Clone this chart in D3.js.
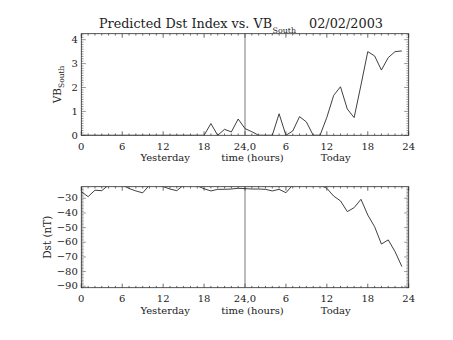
<!DOCTYPE html>
<html><head><meta charset="utf-8">
<script src="https://cdn.jsdelivr.net/npm/d3@7"></script>
<style>
body{margin:0;background:#fff;}
text{font-family:"DejaVu Serif",serif;fill:#222;}
</style></head><body>
<svg id="c" width="453" height="340"></svg>
<script>
// hours since start of "yesterday"
const hours = [0,1,2,3,4,5,6,7,8,9,10,11,12,13,14,15,16,17,18,19,20,21,22,23,
  24,25,26,27,28,29,30,31,32,33,34,35,36,37,38,39,40,41,42,43,44,45,46,47];
const vbSouth = [0,0,0,0,0,0,0,0,0,0,0,0,0,0,0,0,0,0,0,0.49,0,0.25,0.14,0.68,
  0.28,0.15,0,0,0,0.9,0,0.18,0.78,0.56,0,0,0.75,1.67,2.03,1.10,0.74,2.1,3.50,3.32,2.73,3.25,3.50,3.53];
const dst = [-25.5,-28.9,-24.5,-24.8,-21,-20,-21,-23.3,-25,-26.3,-21,-20,-22,-23.7,-24.8,-21,-20,-21.5,-23.5,-25,-23.9,-23.9,-23.7,-23.2,
  -23.4,-23.7,-23.7,-23.9,-25,-23.9,-26.2,-21,-19,-18,-19,-21,-23.2,-28.5,-31.8,-39.1,-36.4,-30.7,-41.4,-49.4,-61.2,-58.4,-66.4,-76.6];
const xTickValues = [0,6,12,18,24,30,36,42,48];
const xTickLabels = ["0","6","12","18","24,0","6","12","18","24"];
const vbTicks = [0,1,2,3,4];
const dstTicks = [-30,-40,-50,-60,-70,-80,-90];
const vbDomain = [0,4.25];
const dstDomain = [-91,-22.1];
const dayLabels = ["Yesterday","time (hours)","Today"];
const dayLabelHours = [12.3,25.1,37.3];

const svg = d3.select("#c");
const L = 81.3, R = 408.7;
const x = d3.scaleLinear().domain([0,48]).range([L,R]);
const ink = "#2a2a2a";

function panel(top, bottom, yDomain, yTicks, yMinorStep, data, id, labelBase1, labelBase2, ylab, ylabX) {
  const y = d3.scaleLinear().domain(yDomain).range([bottom, top]);
  const g = svg.append("g");
  svg.append("clipPath").attr("id", id).append("rect")
    .attr("x", L).attr("y", top).attr("width", R - L).attr("height", bottom - top);
  g.append("rect").attr("x", L).attr("y", top).attr("width", R - L).attr("height", bottom - top)
    .attr("fill", "none").attr("stroke", ink).attr("stroke-width", 0.8);
  const minorX = hours.concat([48]);
  minorX.forEach(h => {
    const major = xTickValues.includes(h);
    const len = major ? 4 : 1.8;
    g.append("line").attr("x1", x(h)).attr("x2", x(h)).attr("y1", bottom).attr("y2", bottom - len)
      .attr("stroke", ink).attr("stroke-width", 0.7);
    g.append("line").attr("x1", x(h)).attr("x2", x(h)).attr("y1", top).attr("y2", top + len)
      .attr("stroke", ink).attr("stroke-width", 0.7);
  });
  const [y0, y1] = yDomain;
  const minorY = d3.range(Math.ceil(y0 / yMinorStep) * yMinorStep, y1 + 1e-9, yMinorStep);
  minorY.forEach(v => {
    const major = yTicks.some(t => Math.abs(t - v) < 1e-6);
    const len = major ? 4.5 : 2.2;
    g.append("line").attr("x1", L).attr("x2", L + len).attr("y1", y(v)).attr("y2", y(v))
      .attr("stroke", ink).attr("stroke-width", 0.5);
    g.append("line").attr("x1", R).attr("x2", R - len).attr("y1", y(v)).attr("y2", y(v))
      .attr("stroke", ink).attr("stroke-width", 0.5);
  });
  yTicks.forEach(v => {
    g.append("text").attr("x", L - 3.5).attr("y", y(v) + 3.2).attr("text-anchor", "end")
      .attr("font-size", 10).text(v < 0 ? "\u2212" + Math.abs(v) : v);
  });
  xTickValues.forEach((h, i) => {
    g.append("text").attr("x", x(h)).attr("y", labelBase1).attr("text-anchor", "middle")
      .attr("font-size", 10).text(xTickLabels[i]);
  });
  dayLabels.forEach((t, i) => {
    g.append("text").attr("x", x(dayLabelHours[i])).attr("y", labelBase2).attr("text-anchor", "middle")
      .attr("font-size", 10).text(t);
  });
  g.append("line").attr("x1", x(24)).attr("x2", x(24)).attr("y1", top).attr("y2", bottom)
    .attr("stroke", "#555").attr("stroke-width", 0.8);
  const line = d3.line().x((d, i) => x(hours[i])).y(d => y(d));
  g.append("path").datum(data).attr("d", line).attr("clip-path", `url(#${id})`)
    .attr("fill", "none").attr("stroke", ink).attr("stroke-width", 0.9);
  const yt = g.append("text").attr("transform", `translate(${ylabX},${(top + bottom) / 2}) rotate(-90)`)
    .attr("text-anchor", "middle").attr("font-size", 10.5);
  ylab(yt);
  return y;
}

panel(33.7, 135.3, vbDomain, vbTicks, 0.1, vbSouth, "clipA", 150, 161, t => {
  t.append("tspan").text("VB");
  t.append("tspan").attr("font-size", 7.5).attr("dy", 3).text("South");
}, 61);

panel(186.7, 287.7, dstDomain, dstTicks, 1, dst, "clipB", 301.5, 313.5, t => {
  t.text("Dst (nT)");
}, 51);

// title
svg.append("text").attr("x", 99).attr("y", 28).attr("font-size", 12)
  .attr("textLength", 173).attr("lengthAdjust", "spacingAndGlyphs")
  .text("Predicted Dst Index vs. VB");
svg.append("text").attr("x", 272.5).attr("y", 33).attr("font-size", 7.5)
  .attr("textLength", 23.5).attr("lengthAdjust", "spacingAndGlyphs").text("South");
svg.append("text").attr("x", 309).attr("y", 28).attr("font-size", 12)
  .attr("textLength", 74).attr("lengthAdjust", "spacingAndGlyphs").text("02/02/2003");
</script>
</body></html>
